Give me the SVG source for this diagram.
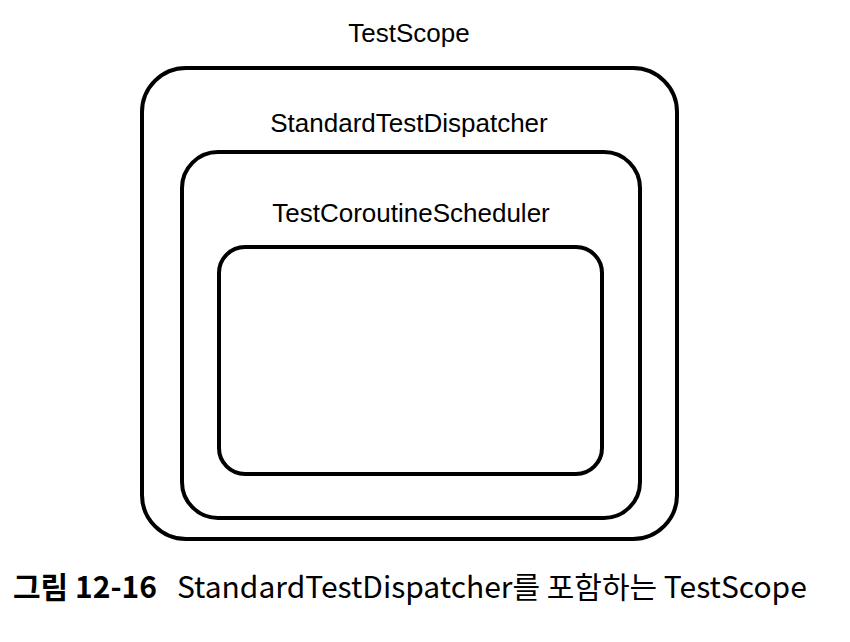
<svg xmlns="http://www.w3.org/2000/svg" width="850" height="642" viewBox="0 0 850 642">
<style>
.box{fill:none;stroke:#000;stroke-width:4}
.lbl{font-family:"Liberation Sans",Arial,sans-serif;font-size:26px;fill:#000;text-anchor:middle}
.cap{font-family:"Noto Sans CJK KR","Noto Sans",sans-serif;font-size:30px;fill:#000}
</style>
<rect width="850" height="642" fill="#fff"/>
<g id="testscope">
<rect class="box" x="142" y="68" width="535" height="471" rx="44"/>
<text class="lbl" x="409" y="42">TestScope</text>
</g>
<g id="standardtestdispatcher">
<rect class="box" x="182" y="152" width="458" height="366" rx="36"/>
<text class="lbl" x="409" y="132">StandardTestDispatcher</text>
</g>
<g id="testcoroutinescheduler">
<rect class="box" x="219" y="247" width="383" height="227" rx="26"/>
<text class="lbl" x="411" y="222">TestCoroutineScheduler</text>
</g>
<g id="connectors"></g>
<g id="caption">
<text class="cap" x="13" y="598"><tspan font-weight="bold">그림 12-16</tspan><tspan x="177">StandardTestDispatcher를 포함하는 TestScope</tspan></text>
</g>
</svg>
